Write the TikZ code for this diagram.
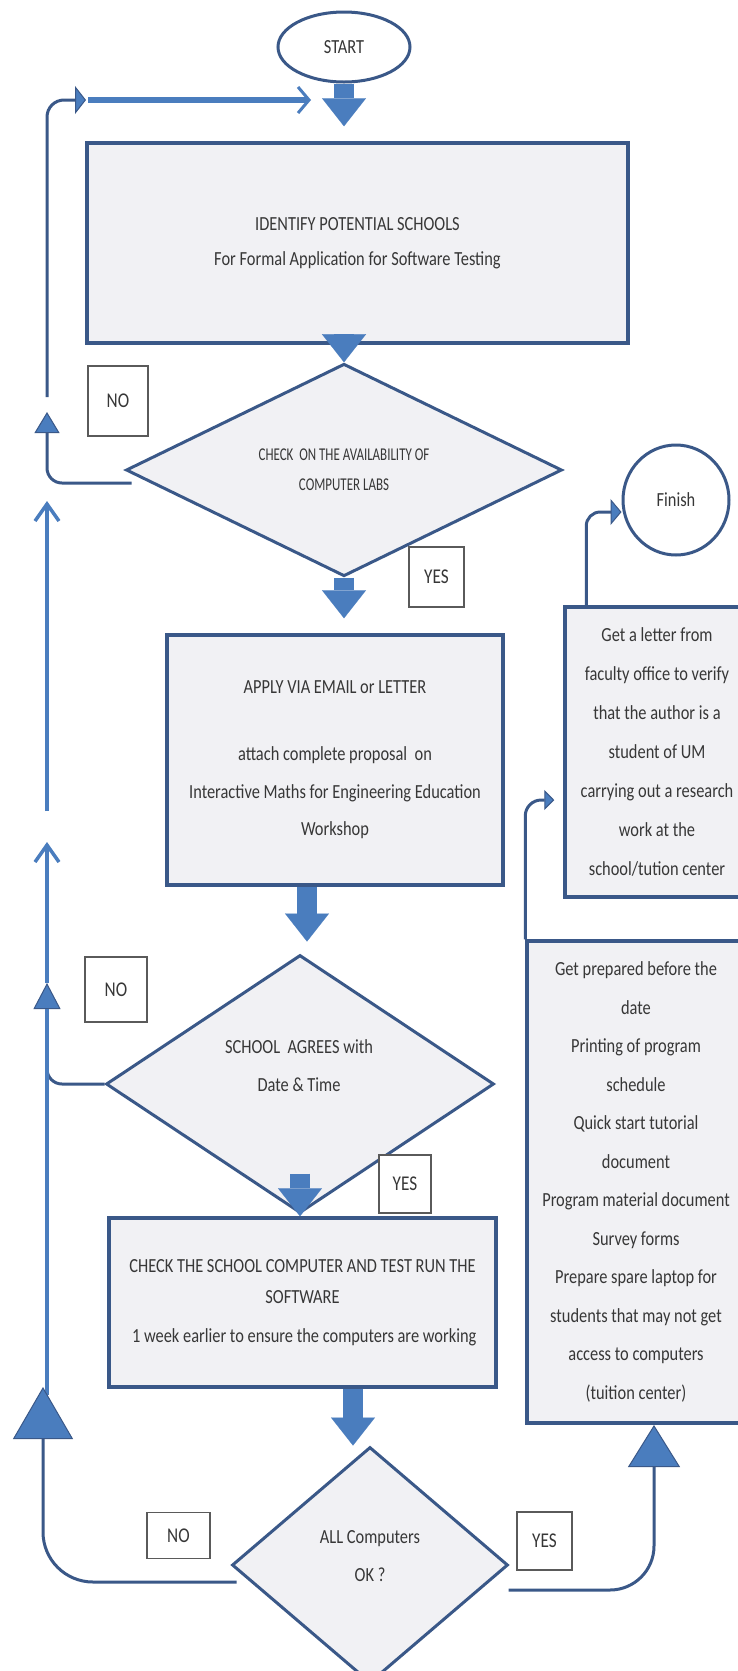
\documentclass[tikz,border=0pt]{standalone}
\usepackage{fontspec}
\setmainfont{Carlito}[FakeStretch=0.82]
\newfontfamily\narrowfont{Carlito}[FakeStretch=0.72]
\usetikzlibrary{shapes.geometric, arrows.meta, calc}

\definecolor{navy}{RGB}{58,88,136}
\definecolor{boxfill}{RGB}{241,241,244}
\definecolor{flowblue}{RGB}{74,125,190}
\definecolor{lblgray}{RGB}{90,90,90}
\definecolor{inkgray}{RGB}{55,55,55}

\begin{document}
\begin{tikzpicture}[x=1pt, y=-1pt,
  txt/.style={text=inkgray, align=center, font=\fontsize{20}{38}\selectfont},
  procbox/.style={txt, rectangle, draw=navy, line width=3.5pt, fill=boxfill, inner sep=0pt},
  decision/.style={txt, diamond, draw=navy, line width=3pt, fill=boxfill, inner sep=0pt},
  terminal/.style={txt, ellipse, draw=navy, line width=3pt, fill=white, inner sep=0pt},
  answer/.style={txt, font=\fontsize{21}{24}\selectfont, rectangle, draw=lblgray, line width=1.4pt, fill=white, inner sep=0pt},
  bigflow/.style={draw=flowblue, line width=20pt, -{Triangle[length=28pt, width=44pt, line width=0.1pt]}},
  navyline/.style={draw=navy, line width=3pt},
  blueline/.style={draw=flowblue, line width=3.5pt}
]
\useasboundingbox (0,0) rectangle (738,1671);
\fill[white] (0,0) rectangle (738,1671);

% terminals
\node[terminal, minimum width=132pt, minimum height=70pt] (start) at (344,47) {\raisebox{-6pt}{START}};
\node[terminal, minimum width=106pt, minimum height=110pt] (fin) at (676,500) {Finish};

% main column
\node[procbox, minimum width=541pt, minimum height=200pt] (box1) at (357.5,243)
  {IDENTIFY POTENTIAL SCHOOLS\\[-3pt]For Formal Application for Software Testing};
\node[decision, minimum width=436pt, minimum height=154pt,
  font=\narrowfont\fontsize{18}{30}\selectfont] (d1) at (344,470)
  {CHECK\ \ ON THE AVAILABILITY OF\\COMPUTER LABS};
\node[procbox, minimum width=336pt, minimum height=250pt] (box2) at (335,760)
  {APPLY VIA EMAIL or LETTER\\[29pt]attach complete proposal\ \ on\\Interactive Maths for Engineering Education\\[-1pt]Workshop};
\node[decision, minimum width=388pt, minimum height=258pt] (d2) at (300,1084) {};
\node[txt] (d2t) at (299,1066) {SCHOOL\ \ AGREES with\\Date \& Time};
\node[procbox, minimum width=387pt, minimum height=169pt] (box3) at (302.5,1302.5)
  {CHECK THE SCHOOL COMPUTER AND TEST RUN THE\\[-7pt]SOFTWARE\\[1pt]\,1 week earlier to ensure the computers are working};
\node[decision, minimum width=276pt, minimum height=236pt] (d3) at (370,1565) {};
\node[txt] (d3t) at (370,1556) {ALL Computers\\OK ?};

% right column
\node[procbox, minimum width=184pt, minimum height=290pt, font=\fontsize{20}{39}\selectfont] (rb1) at (657,752)
  {Get a letter from\\faculty office to verify\\that the author is a\\student of UM\\carrying out a research\\work at the\\school/tution center};
\node[procbox, minimum width=218pt, minimum height=482pt, font=\fontsize{20}{38.5}\selectfont] (rb2) at (636,1182)
  {Get prepared before the\\date\\Printing of program\\schedule\\Quick start tutorial\\document\\Program material document\\Survey forms\\Prepare spare laptop for\\students that may not get\\access to computers\\(tuition center)};

% answer tags
\node[answer, minimum width=60pt, minimum height=70pt] (no1) at (118,401) {NO};
\node[answer, minimum width=55pt, minimum height=60pt] (yes1) at (436.5,577) {YES};
\node[answer, minimum width=62pt, minimum height=65pt] (no2) at (116,989.5) {NO};
\node[answer, minimum width=52pt, minimum height=58pt] (yes2) at (405,1184) {YES};
\node[answer, minimum width=63pt, minimum height=46pt] (no3) at (178.5,1535.5) {\raisebox{-7pt}{NO}};
\node[answer, minimum width=55pt, minimum height=58pt] (yes3) at (544.5,1541) {YES};

% block arrows down the main column
\draw[bigflow] (start.south) -- ($(start.south |- box1.north)+(0,-15)$);
\draw[bigflow] (box1.south -| d1.north) -- (d1.north);
\draw[bigflow] (d1.south) -- ($(d1.south |- box2.north)+(0,-15)$);
\draw[bigflow] ($(box2.south)+(-28,0)$) -- ($(d2.north)+(7,-12)$);
\draw[bigflow] ($(d2.south)+(0,-41)$) -- (box3.north -| d2.south);
\draw[bigflow] ($(box3.south)+(50.5,0)$) -- ($(d3.north)+(-17,0)$);

% return loop at the top
\coordinate (loopfoot) at (47,397);
\coordinate (loophead) at (86,100);
\draw[navyline, rounded corners=17pt, -{Triangle[length=11pt, width=28pt, line width=1pt, fill=flowblue]}] (loopfoot) |- (loophead);
\coordinate (feedA) at (88,100);
\coordinate (feedB) at (311,100);
\draw[flowblue, line width=6pt, -{Straight Barb[length=11pt, width=26pt, line width=3pt]}] (feedA) -- (feedB);

% NO branch of the first decision
\coordinate (no1tip) at (47,412);
\draw[navyline, rounded corners=15pt, -{Triangle[length=21pt, width=25pt, line width=1pt, fill=flowblue]}]
  ($(d1.west)+(7,13)$) -| (no1tip);

% rising segments on the left
\coordinate (upA0) at (47,811); \coordinate (upA1) at (47,501);
\draw[blueline, -{Straight Barb[length=17pt, width=24pt]}] (upA0) -- (upA1);
\coordinate (upB0) at (47,983); \coordinate (upB1) at (47,842);
\draw[blueline, -{Straight Barb[length=17pt, width=24pt]}] (upB0) -- (upB1);

% NO branch of the second decision
\draw[navyline, rounded corners=15pt, -{Triangle[length=26pt, width=27pt, line width=1pt, fill=flowblue]}]
  (d2.west) -| (upB0);
\coordinate (riseC0) at (47,1395); \coordinate (riseC1) at (47,1009);
\draw[blueline] (riseC0) -- (riseC1);

% NO branch of the third decision
\coordinate (no3tip) at (43,1387);
\draw[navyline, rounded corners=50pt, -{Triangle[length=52pt, width=60pt, line width=1pt, fill=flowblue]}]
  ($(d3.west)+(6,17)$) -| (no3tip);

% YES branch of the third decision
\coordinate (yes3tip) at (654,1425);
\draw[navyline, rounded corners=44pt, -{Triangle[length=42pt, width=52pt, line width=1pt, fill=flowblue]}]
  ($(d3.east)+(-1,25)$) -| (yes3tip);

% right column links
\draw[navyline, rounded corners=16pt, -{Triangle[length=10pt, width=20pt, line width=1pt, fill=flowblue]}]
  (rb2.north west) |- ($(rb1.west)+(-9,48)$);
\draw[navyline, rounded corners=14pt, -{Triangle[length=11pt, width=26pt, line width=1pt, fill=flowblue]}]
  ($(rb1.north west)+(23,0)$) |- ($(fin.west)+(0,12)$);
\end{tikzpicture}
\end{document}
